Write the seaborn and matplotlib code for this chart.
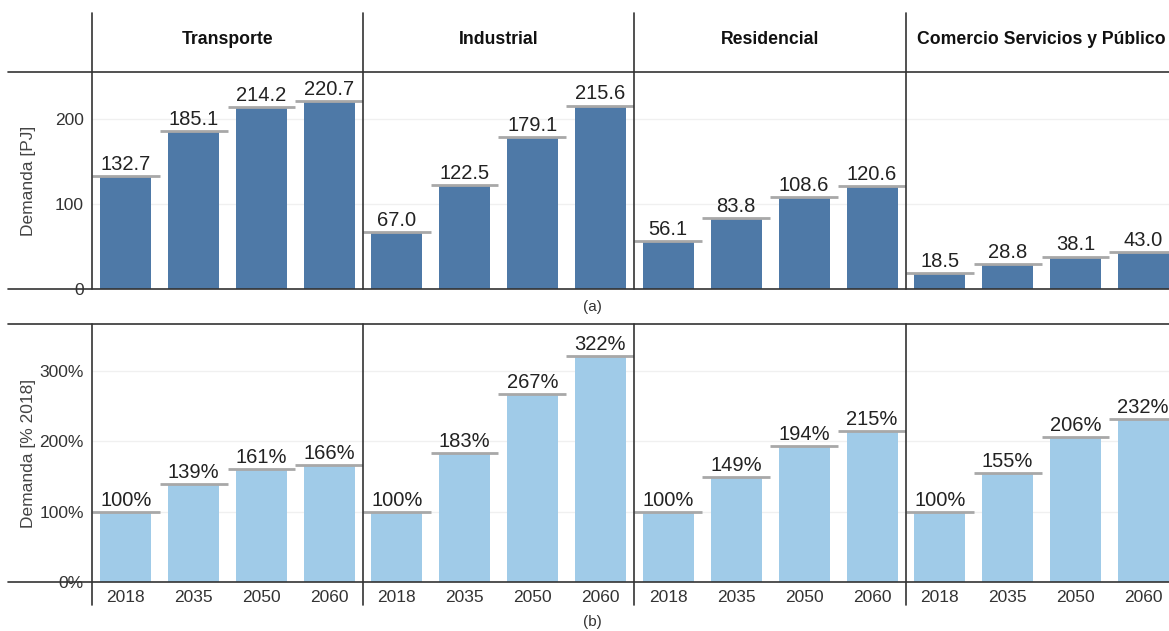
import numpy as np
import pandas as pd
import matplotlib
matplotlib.use('Agg')
import matplotlib.pyplot as plt
from matplotlib.lines import Line2D
import seaborn as sns

# ## datos
sectores = ['Transporte', 'Industrial', 'Residencial', 'Comercio Servicios y Público']
anios = ['2018', '2035', '2050', '2060']

demanda_pj = {
    'Transporte': [132.7, 185.1, 214.2, 220.7],
    'Industrial': [67.0, 122.5, 179.1, 215.6],
    'Residencial': [56.1, 83.8, 108.6, 120.6],
    'Comercio Servicios y Público': [18.5, 28.8, 38.1, 43.0],
}
demanda_pct = {
    'Transporte': [100, 139, 161, 166],
    'Industrial': [100, 183, 267, 322],
    'Residencial': [100, 149, 194, 215],
    'Comercio Servicios y Público': [100, 155, 206, 232],
}

sns.set_style('white')
plt.rcParams['font.family'] = ['Liberation Sans', 'DejaVu Sans']

W, H = 1169, 631
fig = plt.figure(figsize=(W / 100, H / 100), dpi=100)


def fx(x):
    return x / W


def fy(y):
    return 1 - y / H


# bordes de los paneles en pixeles
x_edges = [92, 363, 634, 906, 1177]
top_row = (72, 289)
bot_row = (324, 582)

color_a = '#4e79a7'
color_b = '#a0cbe8'
cap_color = '#a8a8a8'
line_color = '#333333'
text_color = '#222222'


def dibujar_panel(ax, valores, color, ymax, yticks, fmt, first, show_x):
    df = pd.DataFrame({'anio': anios, 'valor': valores})
    sns.barplot(data=df, x='anio', y='valor', color=color, width=0.75,
                saturation=1, ax=ax, edgecolor='none')
    pos = np.arange(len(anios))
    ax.hlines(valores, pos - 0.5, pos + 0.5, color=cap_color, lw=2, zorder=3)
    for p, v in zip(pos, valores):
        ax.annotate(fmt(v), (p, v), xytext=(0, 1.5), textcoords='offset points',
                    ha='center', va='bottom', fontsize=14.5, color=text_color)
    ax.set_xlim(-0.5, 3.5)
    ax.set_ylim(0, ymax)
    ax.set_yticks(yticks)
    ax.yaxis.grid(True, color='#f0f0f0', lw=1)
    ax.set_axisbelow(True)
    for s in ax.spines.values():
        s.set_visible(False)
    ax.set_xlabel('')
    ax.set_ylabel('')
    ax.tick_params(length=0, labelsize=12.5, colors='#333333', pad=6)
    if not first:
        ax.set_yticklabels([])
    if not show_x:
        ax.set_xticklabels([])


for i, sector in enumerate(sectores):
    x0, x1 = x_edges[i], x_edges[i + 1]
    ax_a = fig.add_axes([fx(x0), fy(top_row[1]), (x1 - x0) / W, (top_row[1] - top_row[0]) / H])
    dibujar_panel(ax_a, demanda_pj[sector], color_a, 255, [0, 100, 200],
                  lambda v: f'{v:.1f}', i == 0, False)
    ax_b = fig.add_axes([fx(x0), fy(bot_row[1]), (x1 - x0) / W, (bot_row[1] - bot_row[0]) / H])
    dibujar_panel(ax_b, demanda_pct[sector], color_b, 367, [0, 100, 200, 300],
                  lambda v: f'{v:.0f}%', i == 0, True)
    if i == 0:
        ax_a.set_yticklabels(['0', '100', '200'])
        ax_b.set_yticklabels(['0%', '100%', '200%', '300%'])
        ax_a.set_ylabel('Demanda [PJ]', fontsize=12.5, color='#444444')
        ax_b.set_ylabel('Demanda [% 2018]', fontsize=12.5, color='#444444')
        ax_a.yaxis.set_label_coords(-0.205, 0.5)
        ax_b.yaxis.set_label_coords(-0.205, 0.5)
    # encabezado
    fig.text(fx((x0 + x1) / 2), fy(40), sector, ha='center', va='center',
             fontsize=12.7, fontweight='bold', color='#111111')

# lineas de la grilla de paneles
for y in [72, 289, 324, 582]:
    fig.add_artist(Line2D([fx(8), fx(W)], [fy(y), fy(y)], color=line_color, lw=1.2))
for x in x_edges[:4]:
    fig.add_artist(Line2D([fx(x), fx(x)], [fy(13), fy(289)], color=line_color, lw=1.2))
    fig.add_artist(Line2D([fx(x), fx(x)], [fy(324), fy(605)], color=line_color, lw=1.2))

fig.text(fx(592), fy(307), '(a)', ha='center', va='center', fontsize=11, color='#333333')
fig.text(fx(592), fy(622), '(b)', ha='center', va='center', fontsize=11, color='#333333')

fig.savefig('out.png', dpi=100)
